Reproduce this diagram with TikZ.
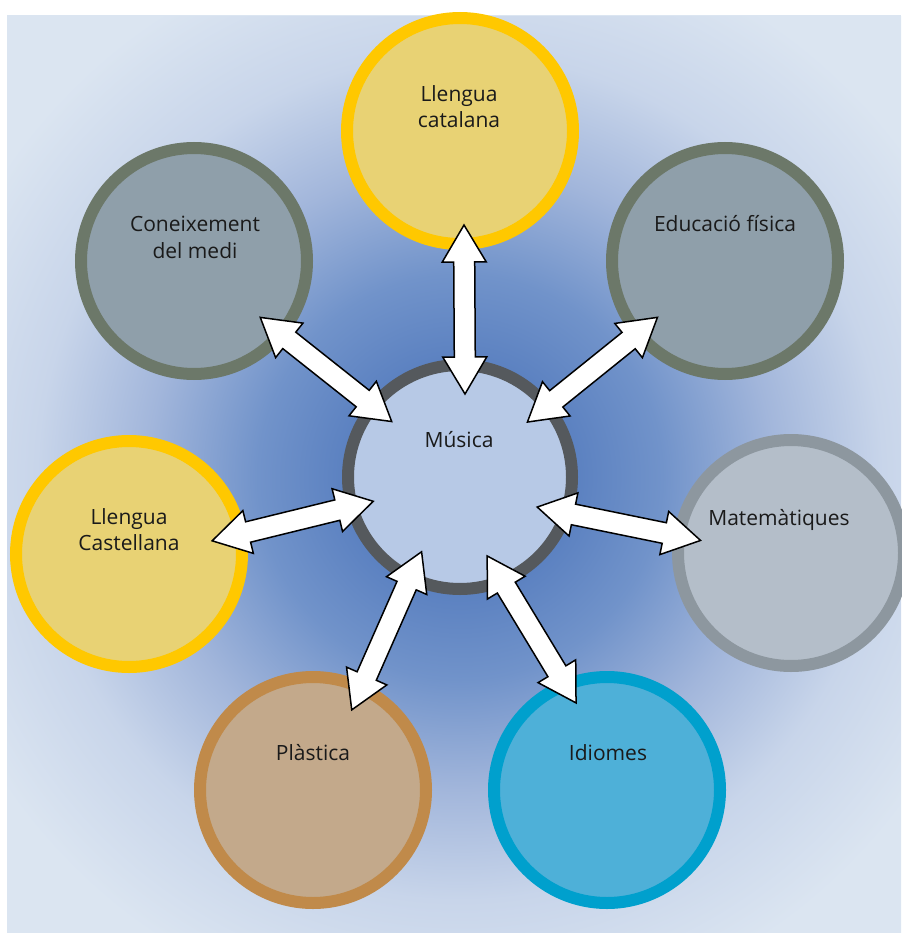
\documentclass[tikz,border=0pt]{standalone}
\usepackage{fontspec}
\setmainfont{Open Sans}
\usepackage{tikz}
\usetikzlibrary{calc}

\definecolor{bglight}{HTML}{DBE5F1}
\definecolor{glowdark}{HTML}{5A80C0}
\definecolor{glowmid}{HTML}{7193CA}
\definecolor{glowsoft}{HTML}{A2B6DB}
\definecolor{glowpale}{HTML}{C8D5EA}
\definecolor{musline}{HTML}{55595D}
\definecolor{musfill}{HTML}{B7C9E6}
\definecolor{yelline}{HTML}{FFC800}
\definecolor{yelfill}{HTML}{E8D274}
\definecolor{grnline}{HTML}{6C7869}
\definecolor{grnfill}{HTML}{8F9FAA}
\definecolor{matline}{HTML}{8D979F}
\definecolor{matfill}{HTML}{B4BEC9}
\definecolor{plaline}{HTML}{C08A4A}
\definecolor{plafill}{HTML}{C3A98B}
\definecolor{idiline}{HTML}{00A0CD}
\definecolor{idifill}{HTML}{4EB0D8}
\definecolor{txtcol}{HTML}{1A1A1A}

\pgfdeclareradialshading{bgglow}{\pgfpoint{0bp}{0bp}}{color(0bp)=(glowdark); color(6bp)=(glowdark); color(11bp)=(glowmid); color(17bp)=(glowsoft); color(23bp)=(glowpale); color(30bp)=(bglight); color(50bp)=(bglight)}

\tikzstyle{every node}+=[inner sep=0pt]
\tikzstyle{subject} = [circle, line width=12pt, minimum size=226pt, outer sep=0pt]
\tikzstyle{caption} = [font=\fontsize{21}{26}\selectfont, text=txtcol, align=center, anchor=base]
\tikzstyle{twoway} = [draw=black, fill=white, line width=1.5pt, line join=miter]

% double block arrow between two tips
\def\headlen{37pt}
\def\headhalf{22pt}
\def\shafthalf{10.5pt}
\newcommand{\twoway}[2]{%
  \draw[twoway] (#1)
    -- ($(#1)!\headlen!(#2)!\headhalf!90:(#2)$)
    -- ($(#1)!\headlen!(#2)!\shafthalf!90:(#2)$)
    -- ($(#2)!\headlen!(#1)!\shafthalf!-90:(#1)$)
    -- ($(#2)!\headlen!(#1)!\headhalf!-90:(#1)$)
    -- (#2)
    -- ($(#2)!\headlen!(#1)!\headhalf!90:(#1)$)
    -- ($(#2)!\headlen!(#1)!\shafthalf!90:(#1)$)
    -- ($(#1)!\headlen!(#2)!\shafthalf!-90:(#2)$)
    -- ($(#1)!\headlen!(#2)!\headhalf!-90:(#2)$)
    -- cycle;}

\begin{document}
\begin{tikzpicture}[x=1pt, y=-1pt]
  \useasboundingbox (0,0) rectangle (901,933);
  % Background
  \fill[bglight] (7,15) rectangle (901,933);
  \begin{scope}
    \clip (7,15) rectangle (901,933);
    \shade[shading=bgglow] (0,17) rectangle (920,937);
  \end{scope}

  % Place circles
  \node [subject, draw=musline, fill=musfill, minimum size=224pt] (musica) at (460,477) {};
  \node [subject, draw=yelline, fill=yelfill] (catalana) at (460,131) {};
  \node [subject, draw=grnline, fill=grnfill] (medi) at (194,261) {};
  \node [subject, draw=grnline, fill=grnfill] (fisica) at (725,261) {};
  \node [subject, draw=yelline, fill=yelfill] (castellana) at (129,554) {};
  \node [subject, draw=matline, fill=matfill] (mates) at (791,553) {};
  \node [subject, draw=plaline, fill=plafill] (plastica) at (313,790) {};
  \node [subject, draw=idiline, fill=idifill] (idiomes) at (607,790) {};

  % Arrow tips
  \coordinate (m1) at ($(musica)!83pt!(catalana)!-5pt!90:(catalana)$);
  \coordinate (o1) at ($(catalana)!94pt!(musica)!-4pt!-90:(musica)$);
  \coordinate (m2) at ($(musica)!88pt!(medi)$);
  \coordinate (o2) at ($(medi)!87pt!(musica)!2pt!-90:(musica)$);
  \coordinate (m3) at ($(musica)!87pt!(fisica)$);
  \coordinate (o3) at ($(fisica)!88pt!(musica)!-1pt!-90:(musica)$);
  \coordinate (m4) at ($(musica)!90pt!(castellana)!4pt!90:(castellana)$);
  \coordinate (o4) at ($(castellana)!84pt!(musica)!6pt!-90:(musica)$);
  \coordinate (m5) at ($(musica)!82pt!(mates)!-12pt!90:(mates)$);
  \coordinate (o5) at ($(mates)!91pt!(musica)!-8pt!-90:(musica)$);
  \coordinate (m6) at ($(musica)!84pt!(plastica)!-3pt!90:(plastica)$);
  \coordinate (o6) at ($(plastica)!89pt!(musica)!1pt!-90:(musica)$);
  \coordinate (m7) at ($(musica)!83pt!(idiomes)!-9pt!90:(idiomes)$);
  \coordinate (o7) at ($(idiomes)!92pt!(musica)!9pt!-90:(musica)$);

  % Draw arrows
  \twoway{m1}{o1}
  \twoway{m2}{o2}
  \twoway{m3}{o3}
  \twoway{m4}{o4}
  \twoway{m5}{o5}
  \twoway{m6}{o6}
  \twoway{m7}{o7}

  % Place labels
  \node [caption] (l0) at (459,447) {Música};
  \node [caption] (l1) at (459,128) {Llengua\\catalana};
  \node [caption] (l2) at (195,258) {Coneixement\\del medi};
  \node [caption] (l3) at (725,232) {Educació física};
  \node [caption] (l4) at (129,550) {Llengua\\Castellana};
  \node [caption] (l5) at (779,525) {Matemàtiques};
  \node [caption] (l6) at (313,760) {Plàstica};
  \node [caption] (l7) at (608,760) {Idiomes};
\end{tikzpicture}
\end{document}
